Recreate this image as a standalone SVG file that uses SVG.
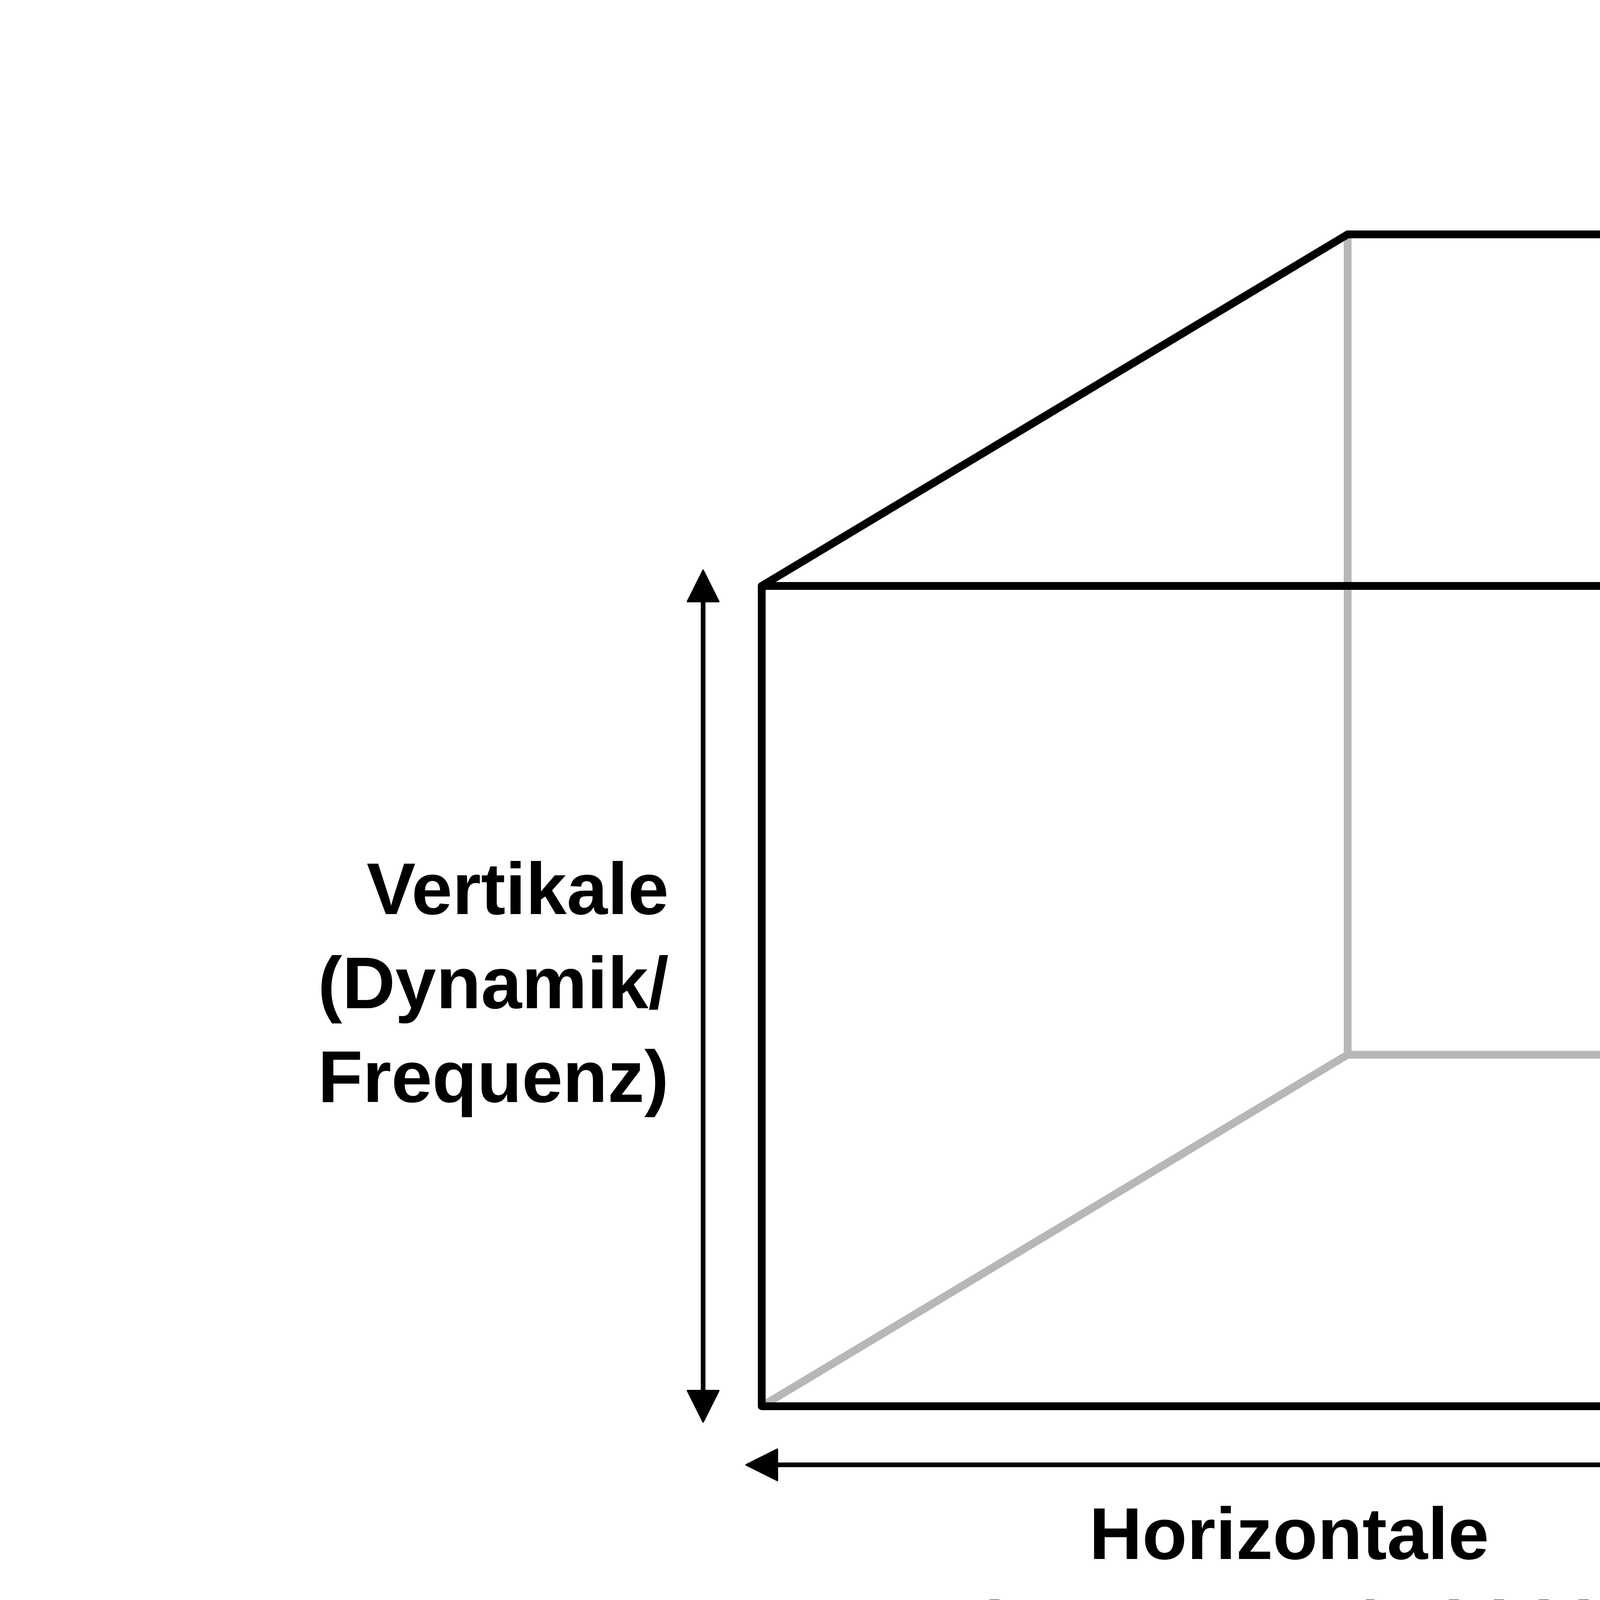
<svg xmlns="http://www.w3.org/2000/svg" width="8000" height="4500" viewBox="0 0 8000 4500">
  <style>
    .edge { fill: none; stroke: #000000; stroke-width: 20; stroke-linejoin: round; stroke-linecap: round; }
    .hidden { fill: none; stroke: #b7b7b7; stroke-width: 20; stroke-linejoin: round; stroke-linecap: butt; }
    .axis { fill: none; stroke: #000000; stroke-width: 12; marker-start: url(#arrow); marker-end: url(#arrow); }
    .label { font-family: "Liberation Sans", Arial, sans-serif; font-weight: bold; font-size: 188px; fill: #000000; }
  </style>
  <defs>
    <marker id="arrow" markerUnits="userSpaceOnUse" markerWidth="90" markerHeight="90" refX="0" refY="40" orient="auto-start-reverse" overflow="visible">
      <path d="M0,0 L80,40 L0,80 Z" fill="#000000" stroke="#000000" stroke-width="4" stroke-linejoin="round"/>
    </marker>
  </defs>
  <rect x="0" y="0" width="8000" height="4500" fill="#ffffff"/>

  <g id="cube">
    <g id="hidden-edges">
      <polyline class="hidden" points="3450,600 3450,2700 6150,2700"/>
      <line class="hidden" x1="3450" y1="2700" x2="1950" y2="3600"/>
    </g>
    <g id="visible-edges">
      <rect class="edge" x="1950" y="1500" width="2700" height="2100"/>
      <polyline class="edge" points="1950,1500 3450,600 6150,600 4650,1500"/>
      <polyline class="edge" points="6150,600 6150,2700 4650,3600"/>
    </g>
  </g>

  <g id="connectors">
    <line class="axis" x1="1800" y1="1540" x2="1800" y2="3560"/>
    <line class="axis" x1="1990" y1="3750" x2="4610" y2="3750"/>
    <line class="axis" x1="4975.5" y1="3588.6" x2="6408.5" y2="2722.4"/>
  </g>

  <g id="label-vertikale">
    <text class="label" text-anchor="end" x="1712" y="2340">Vertikale</text>
    <text class="label" text-anchor="end" x="1712" y="2581">(Dynamik/</text>
    <text class="label" text-anchor="end" x="1712" y="2821">Frequenz)</text>
  </g>
  <g id="label-horizontale">
    <text class="label" text-anchor="middle" x="3300" y="3991">Horizontale</text>
    <text class="label" text-anchor="middle" x="3300" y="4231">(Panorama/Width)</text>
  </g>
  <g id="label-applikate">
    <text class="label" text-anchor="start" x="6077" y="3203">Applikate</text>
    <text class="label" text-anchor="start" x="6080" y="3443">(Tiefe/Presence)</text>
  </g>
</svg>
